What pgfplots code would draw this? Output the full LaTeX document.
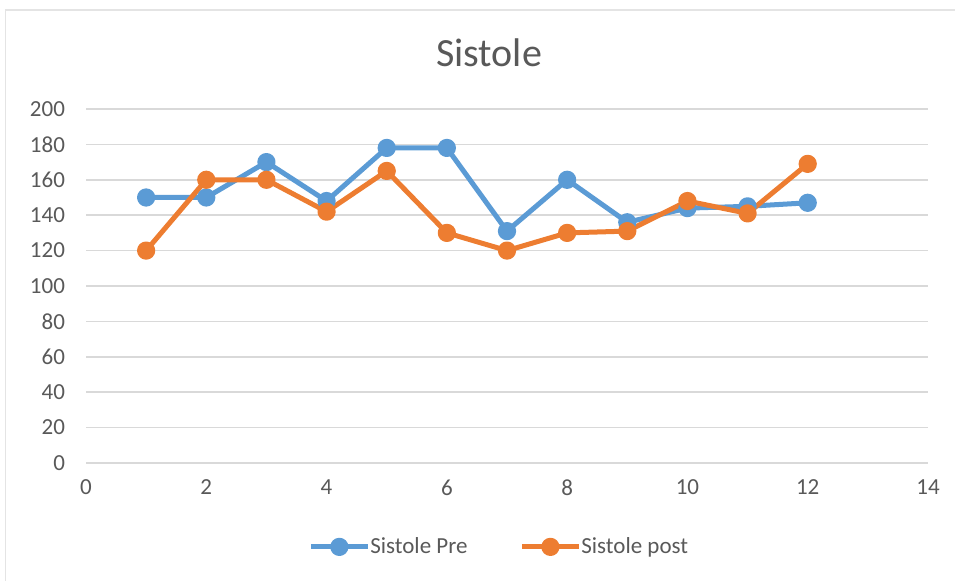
\documentclass[border=0pt]{standalone}
\usepackage{pgfplots}
\pgfplotsset{compat=1.18}
\usepackage{fontspec}
\setmainfont{Carlito}
\definecolor{cblue}{HTML}{5B9BD5}
\definecolor{corange}{HTML}{ED7D31}
\definecolor{ctext}{HTML}{595959}
\definecolor{cgrid}{HTML}{D9D9D9}
\begin{document}
\begin{tikzpicture}
\path[use as bounding box] (0,0) rectangle (477.5pt,290.5pt);
\draw[cgrid!70, line width=0.6pt] (2.75pt,0) -- (2.75pt,285.5pt) -- (477.5pt,285.5pt);
\node[text=ctext, font=\fontsize{20}{24}\selectfont] at (244.5pt,264pt) {Sistole};
\begin{axis}[
  at={(43pt,59pt)}, anchor=south west,
  scale only axis, width=421pt, height=177pt,
  xmin=0, xmax=14, ymin=0, ymax=200,
  xtick={0,2,...,14}, ytick={0,20,...,200},
  /pgf/number format/assume math mode=true,
  ymajorgrids, grid style={cgrid, line width=0.8pt},
  axis x line*=bottom, axis y line*=left,
  x axis line style={cgrid, line width=0.8pt, -},
  y axis line style={draw=none},
  major tick length=0pt,
  tick label style={text=ctext, font=\fontsize{11.5}{13}\selectfont},
  yticklabel style={xshift=-7pt},
  xticklabel style={yshift=-5pt},
  legend columns=2,
  legend cell align=left,
  legend style={at={(0.492,-0.237)}, anchor=center, draw=none, fill=none,
    font=\fontsize{11.5}{13}\selectfont, text=ctext,
    /tikz/every odd column/.append style={column sep=-2pt},
    /tikz/every even column/.append style={column sep=24pt}},
  legend image code/.code={
    \draw[#1, mark=none] (0cm,0cm) -- (1cm,0cm);
    \draw[#1, only marks] plot coordinates {(0.5cm,0cm)};
  },
]
\addplot[cblue, line width=2.5pt, mark=*, mark size=3.3pt, line join=round] coordinates {
(1,150) (2,150) (3,170) (4,148) (5,178) (6,178) (7,131) (8,160) (9,136) (10,144) (11,145) (12,147)};
\addlegendentry{Sistole Pre}
\addplot[corange, line width=2.5pt, mark=*, mark size=3.3pt, line join=round] coordinates {
(1,120) (2,160) (3,160) (4,142) (5,165) (6,130) (7,120) (8,130) (9,131) (10,148) (11,141) (12,169)};
\addlegendentry{Sistole post}
\end{axis}
\end{tikzpicture}
\end{document}
